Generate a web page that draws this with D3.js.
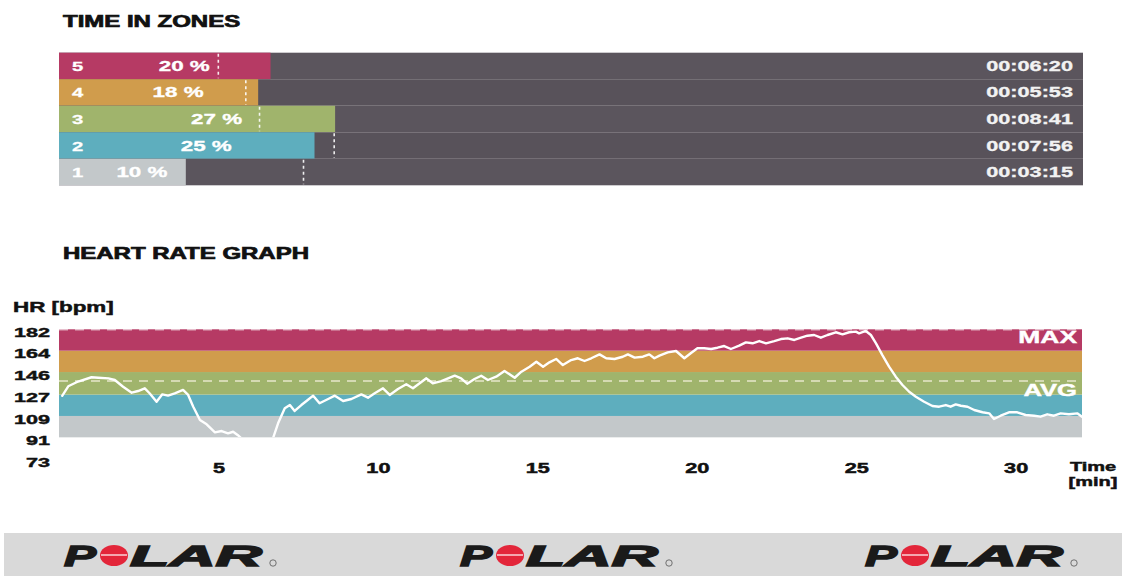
<!DOCTYPE html>
<html>
<head>
<meta charset="utf-8">
<script src="https://cdn.jsdelivr.net/npm/d3@7"></script>
<style>
  html, body { margin: 0; padding: 0; background: #ffffff; }
  svg { display: block; }
  text { font-family: "Liberation Sans", Arial, Helvetica, sans-serif; font-weight: bold; }
</style>
</head>
<body>
<svg id="chart" width="1126" height="576"></svg>
<script>
// ---------------- DATA ----------------
const zoneLabels = ["5", "4", "3", "2", "1"];
const zonePercent = [20, 18, 27, 25, 10];
const zoneSeconds = [380, 353, 521, 476, 195];
const zoneTimeText = ["00:06:20", "00:05:53", "00:08:41", "00:07:56", "00:03:15"];
const zoneMarkerSeconds = [266, 326, 356, 519, 452];

const hrZoneBounds = [91, 109, 127, 146, 164, 182];
const yTickValues = [182, 164, 146, 127, 109, 91, 73];
const xTickValues = [5, 10, 15, 20, 25, 30];
const totalMinutes = 32.08;
const avgHr = 138.5;
const maxHr = 182;

// [minutes, bpm]
const hrSamples = [
  [0.10,126],[0.29,134],[0.60,138],[1.02,141.6],[1.23,141.2],[1.55,140.7],[1.75,139.3],[2.01,133.6],
  [2.28,128.6],[2.48,130],[2.69,132.3],[2.84,128.1],[3.06,121],[3.24,127.2],[3.42,126.1],[3.63,128.1],
  [3.89,130.9],[4.05,126.7],[4.21,116.8],[4.42,105.6],[4.63,102],[4.89,95.2],[5.10,96.3],[5.30,94.4],
  [5.46,95.7],[5.60,93],[5.72,90.2],[5.95,86],[6.30,84],[6.55,86],[6.71,90.2],[6.87,102.8],
  [7.08,115.4],[7.24,118.2],[7.39,113.2],[7.60,118.2],[7.76,121.6],[7.97,126.1],[8.17,119.7],[8.44,123.3],
  [8.65,126.1],[8.91,121.6],[9.17,123.3],[9.48,127.2],[9.69,124.4],[9.90,128.1],[10.16,132.3],[10.37,126.7],
  [10.63,131.7],[10.89,135.7],[11.10,132.3],[11.31,136.5],[11.52,140.7],[11.72,136.5],[11.99,138.4],[12.20,140.7],
  [12.41,142.9],[12.61,140.7],[12.80,136.2],[13.03,140.1],[13.24,142.9],[13.45,139.3],[13.71,142.1],[13.97,146.9],
  [14.29,141.2],[14.50,146.3],[14.76,150.5],[14.97,154.7],[15.18,150.5],[15.38,154.2],[15.59,157],[15.80,151.9],
  [16.06,156.1],[16.27,157.6],[16.48,155.3],[16.69,157.6],[16.95,160.9],[17.16,157.6],[17.42,157],[17.68,158.9],
  [17.84,160.9],[18.05,158.1],[18.31,158.9],[18.51,160.9],[18.67,157.6],[18.83,159.8],[19.09,162.6],[19.35,163.7],
  [19.61,157.6],[19.81,161.8],[20.02,166],[20.23,166],[20.45,165.4],[20.65,166.5],[20.86,167.9],[21.07,165.4],
  [21.33,168.2],[21.54,171],[21.75,170.2],[21.96,172.1],[22.17,170.2],[22.43,172.1],[22.64,173.8],[22.85,174.4],
  [23.06,173],[23.27,174.9],[23.47,176.6],[23.68,177.2],[23.89,174.9],[24.10,177.2],[24.36,179.5],[24.57,177.8],
  [24.78,179.5],[24.99,180],[25.09,178.6],[25.30,180.6],[25.46,177.2],[25.62,170.2],[25.82,160.3],[26.03,150.5],
  [26.24,142.1],[26.45,135.1],[26.66,129.4],[26.87,125.2],[27.13,121],[27.39,117.4],[27.60,116.8],[27.81,118.2],
  [27.96,116.8],[28.12,118.8],[28.28,117.6],[28.49,116.8],[28.70,114],[28.96,112.1],[29.17,111.2],[29.32,106.4],
  [29.53,109.2],[29.79,112.1],[30.05,112.1],[30.31,109.8],[30.58,109.2],[30.78,108.4],[30.99,110.4],[31.20,109.2],
  [31.41,111.2],[31.67,110.4],[31.93,111.2],[32.08,108.4]
];

// ---------------- STYLE ----------------
const zoneColors = ["#b63a64", "#d09c4c", "#a0b46c", "#5eaebe", "#c3c8ca"];
const hrBandColors = ["#c3c8ca", "#5eaebe", "#a0b46c", "#d09c4c", "#b63a64"]; // zone1..zone5
const SX = 1.55;

const svg = d3.select("#chart");

function label(g, x, y, s, o = {}) {
  const fill = o.fill || "#111";
  return g.append("text")
    .attr("transform", `translate(${x},${y}) scale(${o.sx || SX},1)`)
    .attr("text-anchor", o.anchor || "start")
    .attr("font-size", o.size || 14)
    .attr("fill", fill)
    .attr("stroke", fill).attr("stroke-width", o.sw == null ? 0.45 : o.sw)
    .text(s);
}

// ---------------- TIME IN ZONES ----------------
label(svg, 63, 27, "TIME IN ZONES", { size: 16, sx: 1.5, sw: 0.7 });

const rowLeft = 59, rowRight = 1083;
const xz = d3.scaleLinear().domain([0, 2154]).range([96.5, 1083]);
const yz = d3.scaleBand().domain(zoneLabels).range([52.7, 185.3]);

const rows = svg.append("g");
zoneLabels.forEach((z, i) => {
  const y0 = yz(z), h = yz.bandwidth();
  rows.append("rect").attr("x", rowLeft).attr("y", y0).attr("width", rowRight - rowLeft).attr("height", h)
    .attr("fill", i % 2 === 0 ? "#5b555d" : "#58525a");
  rows.append("rect").attr("x", rowLeft).attr("y", y0).attr("width", xz(zoneSeconds[i]) - rowLeft).attr("height", h)
    .attr("fill", zoneColors[i]);
  rows.append("line")
    .attr("x1", xz(zoneMarkerSeconds[i])).attr("x2", xz(zoneMarkerSeconds[i]))
    .attr("y1", y0 + 1).attr("y2", y0 + h - 1)
    .attr("stroke", "#ffffff").attr("stroke-width", 1.6).attr("stroke-dasharray", "3,3").attr("opacity", 0.9);
  const cy = y0 + h / 2 + 5;
  label(rows, 72, cy, z, { size: 13.5, fill: "#ffffff", sx: 1.5, sw: 0.3 });
  const mid = (rowLeft + xz(zoneSeconds[i])) / 2;
  label(rows, mid - 6, cy, zonePercent[i] + " %", { size: 14, fill: "#ffffff", sx: 1.6, sw: 0.3 });
  label(rows, 1073, cy, zoneTimeText[i], { size: 14, fill: "#f2f2f2", anchor: "end", sx: 1.55, sw: 0.3 });
});

// ---------------- HEART RATE GRAPH ----------------
label(svg, 63, 259, "HEART RATE GRAPH", { size: 16, sx: 1.5, sw: 0.7 });
label(svg, 13, 312, "HR [bpm]", { size: 14, sx: 1.6 });

const x = d3.scaleLinear().domain([0, totalMinutes]).range([59, 1082]);
const y = d3.scaleLinear().domain([73, 182]).range([458.7, 329.3]);

const plot = svg.append("g");
for (let i = 0; i < hrZoneBounds.length - 1; i++) {
  plot.append("rect")
    .attr("x", x(0)).attr("width", x(totalMinutes) - x(0))
    .attr("y", y(hrZoneBounds[i + 1])).attr("height", y(hrZoneBounds[i]) - y(hrZoneBounds[i + 1]))
    .attr("fill", hrBandColors[i]);
}
// max & avg dashed lines
plot.append("line").attr("x1", x(0)).attr("x2", x(totalMinutes)).attr("y1", y(maxHr) + 0.5).attr("y2", y(maxHr) + 0.5)
  .attr("stroke", "#ffffff").attr("stroke-width", 1.5).attr("stroke-dasharray", "9,7").attr("opacity", 0.55);
plot.append("line").attr("x1", x(0)).attr("x2", x(totalMinutes)).attr("y1", y(avgHr)).attr("y2", y(avgHr))
  .attr("stroke", "#f4f0dc").attr("stroke-width", 1.5).attr("stroke-dasharray", "9,7").attr("opacity", 0.85);

label(plot, 1077, y(maxHr) + 14, "MAX", { size: 16, fill: "#ffffff", anchor: "end", sx: 1.65, sw: 0.4 });
label(plot, 1077, y(avgHr) + 15, "AVG", { size: 16, fill: "#ffffff", anchor: "end", sx: 1.6, sw: 0.4 });

svg.append("clipPath").attr("id", "bandClip").append("rect")
  .attr("x", x(0)).attr("y", y(182) - 3).attr("width", x(totalMinutes) - x(0)).attr("height", y(91) - y(182) + 3);

const line = d3.line().x(d => x(d[0])).y(d => y(d[1])).curve(d3.curveLinear);
plot.append("path").datum(hrSamples)
  .attr("clip-path", "url(#bandClip)")
  .attr("d", line).attr("fill", "none").attr("stroke", "#ffffff")
  .attr("stroke-width", 2.4).attr("stroke-linejoin", "round").attr("stroke-linecap", "round");

// y axis
const yAxis = svg.append("g").attr("transform", "translate(50,0)")
  .call(d3.axisLeft(y).tickValues(yTickValues).tickSize(0).tickPadding(0).tickFormat(d3.format("d")));
yAxis.select(".domain").remove();
yAxis.selectAll("text")
  .attr("x", 0).attr("dy", 7.3)
  .attr("transform", `scale(1.6,1)`)
  .attr("font-size", 13.5).attr("fill", "#111").attr("stroke", "#111").attr("stroke-width", 0.45)
  .style("font-family", "'Liberation Sans', Arial, sans-serif").style("font-weight", "bold");

// x axis
const xAxis = svg.append("g")
  .call(d3.axisBottom(x).tickValues(xTickValues).tickSize(0).tickFormat(d3.format("d")));
xAxis.select(".domain").remove();
xAxis.selectAll(".tick text")
  .attr("y", 473).attr("dy", 0)
  .attr("transform", `scale(1.55,1)`)
  .attr("font-size", 14).attr("fill", "#111").attr("stroke", "#111").attr("stroke-width", 0.45)
  .style("font-family", "'Liberation Sans', Arial, sans-serif").style("font-weight", "bold");
label(svg, 1093, 471, "Time", { size: 12.5, anchor: "middle", sx: 1.6 });
label(svg, 1093, 485.5, "[min]", { size: 12.5, anchor: "middle", sx: 1.6 });

// ---------------- FOOTER ----------------
svg.append("rect").attr("x", 4).attr("y", 533).attr("width", 1118).attr("height", 43).attr("fill", "#d9d9d9");
[64, 460, 865].forEach(x0 => {
  const g = svg.append("g").attr("transform", `translate(${x0},0)`);
  const base = 566;
  g.append("text").attr("x", 0).attr("y", base).attr("font-size", 29).attr("font-style", "italic")
    .attr("fill", "#1a1a1a").attr("stroke", "#1a1a1a").attr("stroke-width", 1.4)
    .attr("textLength", 32).attr("lengthAdjust", "spacingAndGlyphs").text("P");
  g.append("ellipse").attr("cx", 50).attr("cy", 555.5).attr("rx", 14).attr("ry", 10.5).attr("fill", "#e3263a");
  g.append("line").attr("x1", 37).attr("x2", 63).attr("y1", 555).attr("y2", 555).attr("stroke", "#ffffff").attr("stroke-width", 1.2);
  g.append("text").attr("x", 66).attr("y", base).attr("font-size", 29).attr("font-style", "italic")
    .attr("fill", "#1a1a1a").attr("stroke", "#1a1a1a").attr("stroke-width", 1.4)
    .attr("textLength", 132).attr("lengthAdjust", "spacingAndGlyphs").text("LAR");
  g.append("circle").attr("cx", 209).attr("cy", 563).attr("r", 3.2).attr("fill", "none").attr("stroke", "#555").attr("stroke-width", 0.8);
});
</script>
</body>
</html>
